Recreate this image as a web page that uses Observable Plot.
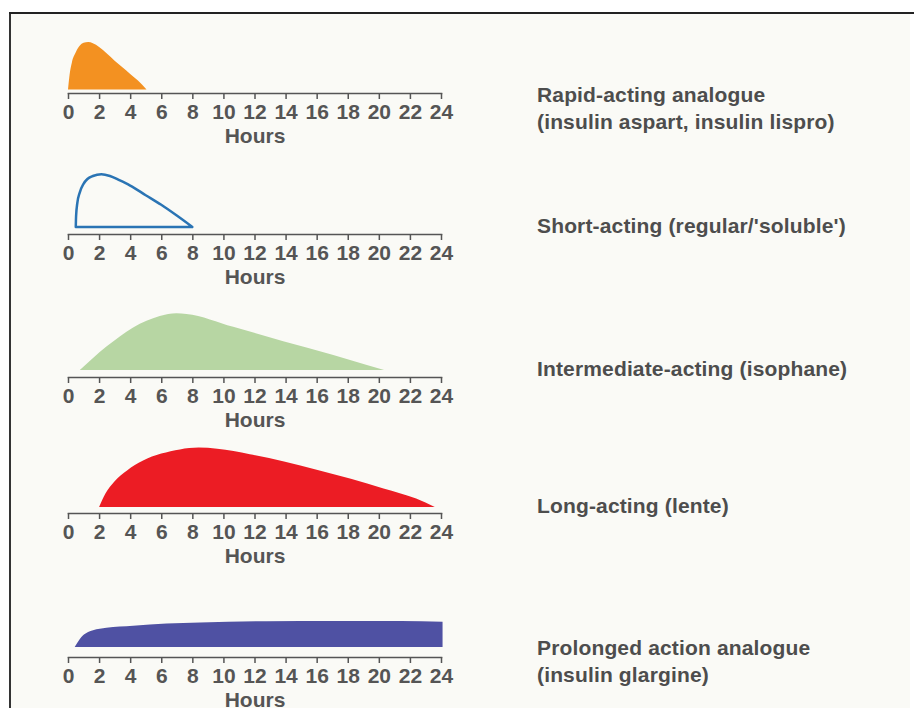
<!DOCTYPE html>
<html>
<head>
<meta charset="utf-8">
<script src="https://cdn.jsdelivr.net/npm/d3@7"></script>
<script src="https://cdn.jsdelivr.net/npm/@observablehq/plot@0.6"></script>
<style>
  html, body { margin: 0; padding: 0; background: #ffffff; }
  body { width: 914px; height: 708px; position: relative; overflow: hidden;
         font-family: "Liberation Sans", Arial, Helvetica, sans-serif; }
  #frame { position: absolute; left: 9px; top: 13px; width: 899px; height: 695px;
           background: #fafaf6; border-left: 2px solid #333; }
  #topline { position: absolute; left: 9px; top: 12px; width: 905px; height: 2px; background: #222; }
  .panel { position: absolute; left: 0; }
  .lab { position: absolute; left: 537px; font-size: 21px; font-weight: bold; color: #4d4d4d;
         line-height: 27px; letter-spacing: 0.15px; white-space: nowrap; }
</style>
</head>
<body>
<div id="frame"></div>
<div id="topline"></div>
<script>
// Hour ticks on each axis
const hourTicks = [0, 2, 4, 6, 8, 10, 12, 14, 16, 18, 20, 22, 24];

// Relative insulin action (arbitrary units)
const rapidHours = [0, 0.1, 0.25, 0.5, 0.75, 1.0, 1.3, 1.6, 2.0, 2.5, 3.0, 3.5, 4.0, 4.5, 5.05];
const rapidAction = [0, 0.24, 0.45, 0.62, 0.73, 0.78, 0.79, 0.77, 0.71, 0.60, 0.48, 0.37, 0.26, 0.15, 0];

const shortHours = [0.5, 0.52, 0.6, 0.75, 1.0, 1.25, 1.6, 2.15, 2.7, 3.3, 4.0, 5.0, 6.0, 7.0, 8.0];
const shortAction = [0, 0.18, 0.40, 0.57, 0.72, 0.80, 0.85, 0.88, 0.85, 0.78, 0.69, 0.53, 0.37, 0.19, 0];

const interHours = [0.76, 1.61, 2.47, 3.33, 4.19, 5.05, 5.9, 6.98, 7.62, 10.63, 13.85, 17.07, 19.23, 20.34];
const interAction = [0, 0.20, 0.39, 0.56, 0.71, 0.82, 0.90, 0.945, 0.935, 0.72, 0.48, 0.25, 0.085, 0];

const longHours = [2.0, 2.4, 3.0, 3.8, 4.8, 6.0, 7.2, 8.4, 9.6, 11.7, 13.9, 16.0, 18.2, 20.3, 22.4, 23.6];
const longAction = [0, 0.22, 0.43, 0.61, 0.77, 0.89, 0.96, 0.99, 0.97, 0.88, 0.76, 0.62, 0.47, 0.31, 0.14, 0];

const glargineHours = [0.43, 0.75, 0.97, 1.29, 1.61, 2.47, 4.19, 6.34, 8.49, 12.8, 17.1, 21.4, 24.1];
const glargineAction = [0, 0.13, 0.195, 0.25, 0.28, 0.32, 0.355, 0.39, 0.41, 0.43, 0.435, 0.435, 0.42];

// Category labels shown at the right
const labels = [
  ["Rapid-acting analogue", "(insulin aspart, insulin lispro)"],
  ["Short-acting (regular/'soluble')"],
  ["Intermediate-acting (isophane)"],
  ["Long-acting (lente)"],
  ["Prolonged action analogue", "(insulin glargine)"]
];

// Layout / styling
const panels = [
  {hours: rapidHours, action: rapidAction, fill: "#f39121", stroke: "none", axisY: 93, gap: 3.5, labTop: 81},
  {hours: shortHours, action: shortAction, fill: "none", stroke: "#2a74b4", axisY: 234, gap: 7, labTop: 212},
  {hours: interHours, action: interAction, fill: "#b7d6a3", stroke: "none", axisY: 377, gap: 7, labTop: 355},
  {hours: longHours, action: longAction, fill: "#ec1c24", stroke: "none", axisY: 513, gap: 6, labTop: 492},
  {hours: glargineHours, action: glargineAction, fill: "#4f51a3", stroke: "none", axisY: 657, gap: 10, labTop: 634}
];

panels.forEach((p, i) => {
  const data = p.hours.map((h, j) => ({h, v: p.action[j]}));
  const chart = Plot.plot({
    width: 471, height: 140,
    marginLeft: 68, marginRight: 30, marginTop: 0, marginBottom: 60,
    x: {domain: [0, 24]},
    y: {domain: [0, 1], range: [80 - p.gap, 80 - p.gap - 60], axis: null},
    style: {background: "none", color: "#555", fontSize: "21px", fontWeight: "bold",
            fontFamily: "'Liberation Sans', Arial, Helvetica, sans-serif", overflow: "visible"},
    marks: [
      Plot.areaY(data, {x: "h", y: "v", fill: p.fill, stroke: p.stroke,
                        strokeWidth: p.stroke === "none" ? 0 : 2.5, curve: "monotone-x"}),
      Plot.frame({anchor: "bottom", strokeWidth: 1.6}),
      Plot.axisX({ticks: hourTicks, tickSize: 6, tickPadding: 5, strokeWidth: 1.5,
                  label: "Hours", labelAnchor: "center", labelOffset: 49, labelArrow: "none"})
    ]
  });
  chart.classList.add("panel");
  chart.style.top = (p.axisY - 80) + "px";
  document.body.appendChild(chart);

  const div = document.createElement("div");
  div.className = "lab";
  div.style.top = p.labTop + "px";
  div.innerHTML = labels[i].join("<br>");
  document.body.appendChild(div);
});
</script>
</body>
</html>
